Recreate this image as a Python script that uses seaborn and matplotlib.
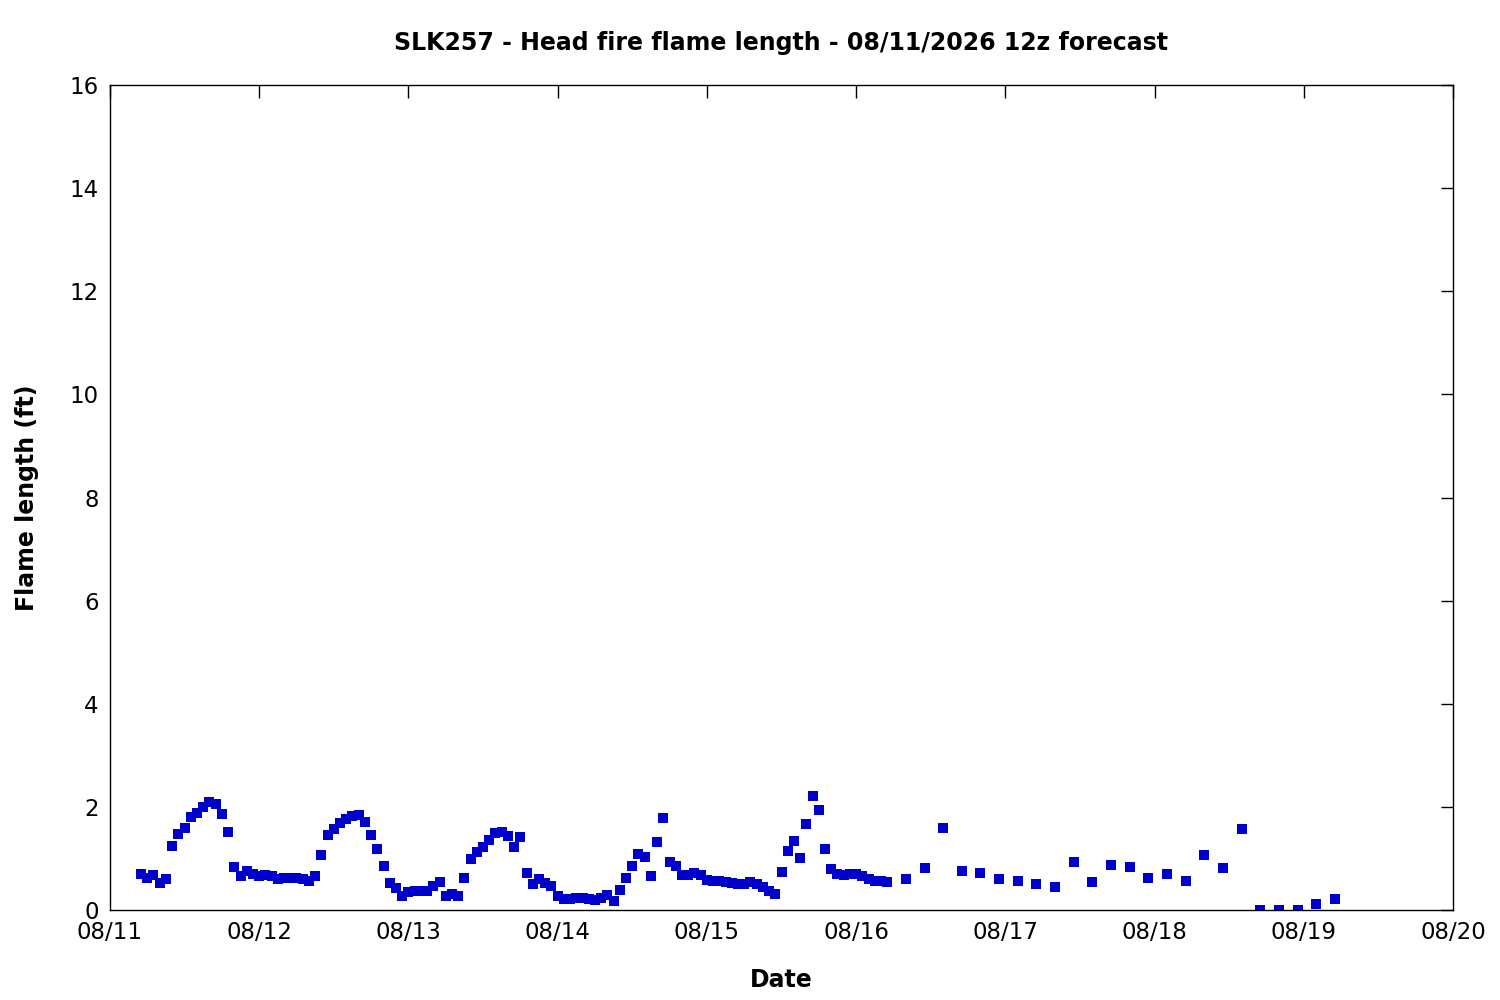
import seaborn as sns
import matplotlib.pyplot as plt
import matplotlib.dates as mdates
import pandas as pd

# hourly forecast 08/11 05:00 -> 08/16 05:00, then 3-hourly to 08/19 05:00
hourly_start = "2026-08-11 05:00"
hourly_flame = [
    0.69, 0.63, 0.67, 0.53, 0.61, 1.24, 1.47, 1.60, 1.80, 1.88, 1.99, 2.09,
    2.05, 1.86, 1.51, 0.83, 0.65, 0.75, 0.69, 0.65, 0.67, 0.65, 0.60, 0.63,
    0.63, 0.63, 0.61, 0.57, 0.65, 1.06, 1.45, 1.58, 1.68, 1.76, 1.82, 1.84,
    1.70, 1.45, 1.19, 0.85, 0.52, 0.42, 0.28, 0.34, 0.36, 0.36, 0.36, 0.46,
    0.54, 0.28, 0.32, 0.27, 0.63, 0.98, 1.12, 1.23, 1.35, 1.49, 1.52, 1.43,
    1.23, 1.41, 0.71, 0.50, 0.61, 0.52, 0.46, 0.27, 0.21, 0.21, 0.23, 0.23,
    0.21, 0.19, 0.24, 0.30, 0.17, 0.38, 0.63, 0.85, 1.08, 1.02, 0.65, 1.31,
    1.78, 0.94, 0.85, 0.67, 0.67, 0.71, 0.67, 0.59, 0.56, 0.56, 0.54, 0.52,
    0.50, 0.50, 0.54, 0.50, 0.44, 0.36, 0.32, 0.73, 1.14, 1.33, 1.00, 1.66,
    2.22, 1.93, 1.18, 0.79, 0.69, 0.67, 0.69, 0.69, 0.65, 0.61, 0.56, 0.56,
    0.54,
]
threehourly_start = "2026-08-16 08:00"
threehourly_flame = [
    0.61, 0.81, 1.60, 0.75, 0.71, 0.61, 0.57, 0.50, 0.44, 0.94, 0.54, 0.88,
    0.83, 0.63, 0.69, 0.56, 1.06, 0.81, 1.58, 0.00, 0.00, 0.00, 0.11, 0.21,
]
title = "SLK257 - Head fire flame length - 08/11/2026 12z forecast"

times = list(pd.date_range(hourly_start, periods=len(hourly_flame), freq="1h")) + \
    list(pd.date_range(threehourly_start, periods=len(threehourly_flame), freq="3h"))
df = pd.DataFrame({"time": times, "flame": hourly_flame + threehourly_flame})

sns.set_style("white")
plt.rcParams["font.family"] = ["DejaVu Sans"]
plt.rcParams["text.color"] = "black"
plt.rcParams["axes.labelcolor"] = "black"

fig = plt.figure(figsize=(15, 10), dpi=100)
ax = fig.add_axes([0.0733, 0.09, 0.8954, 0.825])
sns.scatterplot(data=df, x="time", y="flame", marker="s", s=42,
                color="#0000cc", linewidth=0, ax=ax)

ax.set_xlim(pd.Timestamp("2026-08-11"), pd.Timestamp("2026-08-20"))
ax.set_ylim(0, 16)
ax.set_yticks(range(0, 17, 2))
ax.xaxis.set_major_locator(mdates.DayLocator())
ax.xaxis.set_major_formatter(mdates.DateFormatter("%m/%d"))
ax.tick_params(direction="in", length=9, width=1, labelsize=16.5,
               top=True, right=True, pad=8, colors="black")
for sp in ax.spines.values():
    sp.set_linewidth(1)
    sp.set_color("black")

ax.set_title(title, fontsize=17, fontweight="bold", pad=25, color="black")
ax.set_xlabel("Date", fontsize=17, fontweight="bold", labelpad=17)
ax.set_ylabel("Flame length (ft)", fontsize=17, fontweight="bold", labelpad=22)

fig.savefig("out.png", dpi=100)
